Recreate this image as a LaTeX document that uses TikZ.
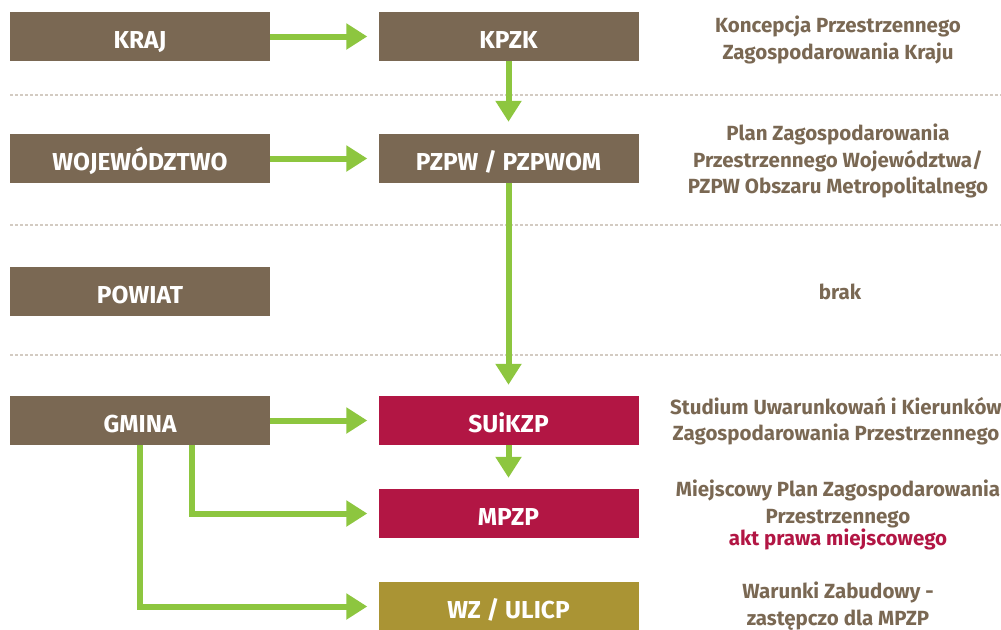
\documentclass[tikz,border=0pt]{standalone}
\usepackage{fontspec}
\setmainfont{Fira Sans}
\usetikzlibrary{arrows.meta,calc}
\definecolor{brn}{HTML}{7A6853}
\definecolor{crim}{HTML}{B21644}
\definecolor{olv}{HTML}{AA9434}
\definecolor{grn}{HTML}{8DC63F}
\definecolor{dotc}{HTML}{D3CBC2}
\tikzset{
  box/.style={minimum width=260pt, minimum height=49pt, inner sep=0pt, text height=23pt, text depth=0pt, text=white, font=\fontsize{24.5}{28}\selectfont\bfseries},
  brownbox/.style={box, fill=brn},
  redbox/.style={box, fill=crim},
  olivebox/.style={box, fill=olv},
  desc/.style={text=brn, align=center, font=\fontsize{20.5}{26.5}\selectfont\bfseries},
  sep/.style={dotc, line width=1.5pt, dash pattern=on 2.5pt off 2.5pt},
  garrow/.style={grn, line width=6pt, -{Triangle[length=21pt,width=25pt]}}
}
\begin{document}
\begin{tikzpicture}[x=1pt,y=-1pt]
\useasboundingbox (0,0) rectangle (1001,629);
% separators
\draw[sep] (10,95) -- (1001,95);
\draw[sep] (10,225) -- (1001,225);
\draw[sep] (10,355) -- (1001,355);
% left column
\node[brownbox] (kraj) at (140,36.5) {KRAJ};
\node[brownbox] (woj) at (140,158.5) {WOJEWÓDZTWO};
\node[brownbox] (pow) at (140,291.5) {POWIAT};
\node[brownbox] (gmina) at (140,420.5) {GMINA};
% middle column
\node[brownbox] (kpzk) at (508.5,36.5) {KPZK};
\node[brownbox] (pzpw) at (508.5,158.5) {PZPW / PZPWOM};
\node[redbox] (suikzp) at (508.5,420.5) {SUiKZP};
\node[redbox] (mpzp) at (508.5,513.5) {MPZP};
\node[olivebox] (wz) at (508.5,606.5) {WZ / ULICP};
% right descriptions
\node[desc] (d1) at (838,40) {Koncepcja Przestrzennego\\Zagospodarowania Kraju};
\node[desc] (d2) at (838,161) {Plan Zagospodarowania\\Przestrzennego Województwa/\\PZPW Obszaru Metropolitalnego};
\node[desc] (d3) at (840,292) {brak};
\node[desc] (d4) at (836,421) {Studium Uwarunkowań i Kierunków\\Zagospodarowania Przestrzennego};
\node[desc] (d5) at (838,515) {Miejscowy Plan Zagospodarowania\\Przestrzennego\\[-4.5pt]\textcolor{crim}{akt prawa miejscowego}};
\node[desc] (d6) at (838,606) {Warunki Zabudowy -\\zastępczo dla MPZP};
% arrows
\draw[garrow, shorten >=11pt] (kraj.east) -- (kpzk.west);
\draw[garrow, shorten >=11pt] (woj.east) -- (pzpw.west);
\draw[garrow, shorten >=11pt] (gmina.east) -- (suikzp.west);
\draw[garrow, shorten >=12pt] (kpzk.south) -- (pzpw.north);
\draw[garrow, shorten >=11pt] (pzpw.south) -- (suikzp.north);
\draw[garrow, shorten >=11pt] (suikzp.south) -- (mpzp.north);
\coordinate (g1) at ($(gmina.south west)+(182,0)$);
\coordinate (g2) at ($(gmina.south west)+(130,0)$);
\draw[garrow, shorten >=11pt] (g1) |- (mpzp.west);
\draw[garrow, shorten >=11pt] (g2) |- (wz.west);
\end{tikzpicture}
\end{document}
